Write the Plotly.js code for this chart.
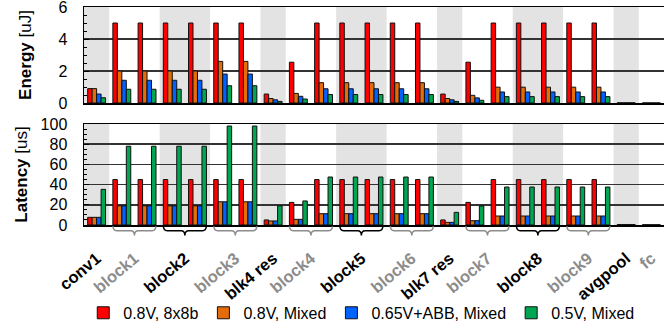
<!DOCTYPE html>
<html><head><meta charset="utf-8">
<script src="https://cdn.plot.ly/plotly-3.0.1.min.js"></script>
<style>html,body{margin:0;padding:0;background:#fff}#chart{width:669px;height:329px}</style>
</head><body><div id="chart"></div>
<script>
// Layer groups and how many bar slots each one spans
const groups = ['conv1','block1','block2','block3','blk4 res','block4','block5','block6','blk7 res','block7','block8','block9','avgpool','fc'];
const groupSlots = [1,2,2,2,1,2,2,2,1,2,2,2,1,1];
const seriesNames = ['0.8V, 8x8b','0.8V, Mixed','0.65V+ABB, Mixed','0.5V, Mixed'];

// Energy [uJ] per slot (23 slots)
const energy08_8x8  = [0.9, 5.0,5.0, 5.0,5.0, 5.0,5.0, 0.56, 2.55,5.0, 5.0,5.0, 5.0,5.0, 0.56, 2.55,5.0, 5.0,5.0, 5.0,5.0, 0.012,0.006];
const energy08_mixed= [0.9, 2.0,2.0, 2.0,2.0, 2.6,2.6, 0.28, 0.6,1.27, 1.27,1.27, 1.27,1.27, 0.28, 0.48,0.99, 0.99,0.99, 0.99,0.99, 0.012,0.006];
const energy065_abb = [0.56, 1.42,1.42, 1.42,1.42, 1.81,1.81, 0.2, 0.42,0.89, 0.89,0.89, 0.89,0.89, 0.2, 0.32,0.69, 0.69,0.69, 0.69,0.69, 0.012,0.006];
const energy05_mixed= [0.33, 0.86,0.86, 0.86,0.86, 1.08,1.08, 0.1, 0.25,0.53, 0.53,0.53, 0.53,0.53, 0.1, 0.17,0.4, 0.4,0.4, 0.4,0.4, 0.012,0.006];

// Latency [us] per slot
const lat08_8x8  = [7.6, 45,45, 45,45, 45,45, 5, 22.4,45, 45,45, 45,45, 5, 22.4,45, 45,45, 45,45, 0.5,0.3];
const lat08_mixed= [7.6, 19,19, 19,19, 23,23, 4, 5.6,11.2, 11.2,11.2, 11.2,11.2, 2.6, 4.3,8.9, 8.9,8.9, 8.9,8.9, 0.5,0.3];
const lat065_abb = [7.6, 19,19, 19,19, 23,23, 4, 5.6,11.2, 11.2,11.2, 11.2,11.2, 2.6, 4.3,8.9, 8.9,8.9, 8.9,8.9, 0.5,0.3];
const lat05_mixed= [35.3, 78,78, 78,78, 98,98, 19, 23.8,47.5, 47.5,47.5, 47.5,47.5, 12.5, 18.8,37.6, 37.6,37.6, 37.6,37.6, 0.5,0.3];

const colors = ['#FF0000','#E46C0A','#0062FF','#00A651'];
const FONT = '"Liberation Sans", Arial, sans-serif';

const nSlots = energy08_8x8.length;
const xs = energy08_8x8.map((_, i) => i);

// group positions
const starts = []; let acc = 0;
groupSlots.forEach(n => { starts.push(acc); acc += n; });
const centers = groups.map((g, i) => starts[i] + (groupSlots[i] - 1) / 2);
const ticktext = groups.map((g, i) => i % 2 === 0 ? g : '<span style="color:#8c8c8c">' + g + '</span>');

const energy = [energy08_8x8, energy08_mixed, energy065_abb, energy05_mixed];
const latency = [lat08_8x8, lat08_mixed, lat065_abb, lat05_mixed];

const traces = [];
energy.forEach((v, k) => traces.push({
  type: 'bar', x: xs, y: v, xaxis: 'x', yaxis: 'y', name: seriesNames[k],
  legendgroup: 's' + k, marker: {color: colors[k], line: {color: '#111', width: 1}}, hoverinfo: 'none'
}));
latency.forEach((v, k) => traces.push({
  type: 'bar', x: xs, y: v, xaxis: 'x2', yaxis: 'y2', name: seriesNames[k], showlegend: false,
  legendgroup: 's' + k, marker: {color: colors[k], line: {color: '#111', width: 1}}, hoverinfo: 'none'
}));

const shapes = [];
groups.forEach((g, i) => {
  if (i % 2 === 0) {
    const x0 = starts[i] - 0.5, x1 = starts[i] + groupSlots[i] - 0.5;
    shapes.push({type: 'rect', xref: 'x', yref: 'y domain', x0, x1, y0: 0, y1: 1, fillcolor: '#E3E3E3', line: {width: 0}, layer: 'below'});
    shapes.push({type: 'rect', xref: 'x2', yref: 'y2 domain', x0, x1, y0: 0, y1: 1, fillcolor: '#E3E3E3', line: {width: 0}, layer: 'below'});
  }
  if (groupSlots[i] === 2) {
    const xa = starts[i] - 0.35, xb = starts[i] + 1.35, xm = centers[i], d = 0.15;
    const yT = -0.006, yM = -0.026, yP = -0.048;
    const path = `M ${xa},${yT} Q ${xa},${yM} ${xa+d},${yM} L ${xm-d},${yM} Q ${xm},${yM} ${xm},${yP} Q ${xm},${yM} ${xm+d},${yM} L ${xb-d},${yM} Q ${xb},${yM} ${xb},${yT}`;
    shapes.push({type: 'path', xref: 'x2', yref: 'paper', path, line: {color: i % 2 === 0 ? '#000' : '#8c8c8c', width: 1.5}});
  }
});

const yCommon = {
  automargin: false,
  ticks: 'inside', ticklen: 5, tickcolor: '#000', tickwidth: 1,
  showline: true, linecolor: '#000', linewidth: 1.5,
  showgrid: true, gridcolor: '#333', gridwidth: 1.5, zeroline: false,
  tickfont: {family: FONT, size: 16, color: '#000'}, ticklabelstandoff: 12, ticklabeloverflow: 'allow'
};
const xCommon = {automargin: false, range: [-0.5, nSlots - 0.5], showgrid: false, zeroline: false, showline: true, linecolor: '#000', linewidth: 1.5, mirror: true, ticks: ''};

const layout = {
  width: 669, height: 329,
  margin: {l: 84, r: 5, t: 7, b: 104},
  paper_bgcolor: '#fff', plot_bgcolor: 'rgba(0,0,0,0)',
  font: {family: FONT, size: 16, color: '#000'},
  barmode: 'group', bargap: 0.29, bargroupgap: 0,
  showlegend: true,
  legend: {orientation: 'h', xref: 'container', yref: 'container', x: 0.54, xanchor: 'center', y: 0.049, yanchor: 'middle',
    bgcolor: 'rgba(0,0,0,0)', font: {family: FONT, size: 16, color: '#000'}, tracegroupgap: 0},
  xaxis: Object.assign({}, xCommon, {anchor: 'y', showticklabels: false}),
  yaxis: Object.assign({}, yCommon, {domain: [0.5596, 1], range: [0, 6], dtick: 2,
    minor: {dtick: 0.5, ticks: 'inside', ticklen: 3, tickcolor: '#000', showgrid: false},
    title: {text: '<b>Energy</b> [uJ]', font: {family: FONT, size: 17, color: '#000'}, standoff: 22}}),
  xaxis2: Object.assign({}, xCommon, {anchor: 'y2', tickmode: 'array', tickvals: centers, ticktext: ticktext, tickangle: -40,
    tickfont: {family: FONT, size: 16.5, color: '#000', weight: 'bold'}, ticklabelstandoff: 16}),
  yaxis2: Object.assign({}, yCommon, {domain: [0, 0.4633], range: [0, 100], dtick: 20,
    minor: {dtick: 5, ticks: 'inside', ticklen: 3, tickcolor: '#000', showgrid: false},
    title: {text: '<b>Latency</b> [us]', font: {family: FONT, size: 17, color: '#000'}, standoff: 8}}),
  shapes: shapes
};

Plotly.newPlot('chart', traces, layout, {displayModeBar: false, staticPlot: true});
</script></body></html>
